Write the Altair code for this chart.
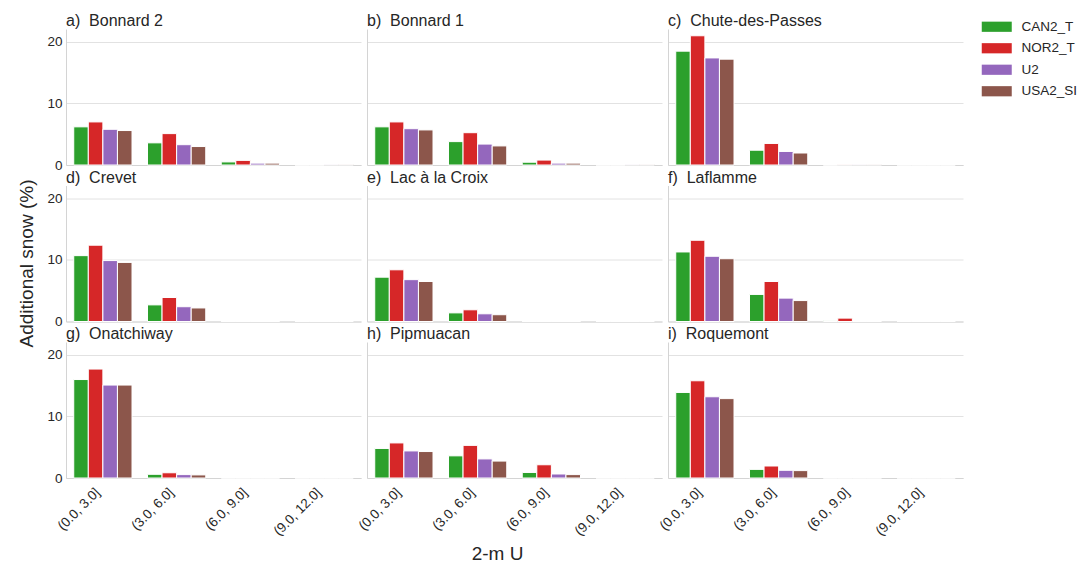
import altair as alt
import pandas as pd

bins = ["(0.0, 3.0]", "(3.0, 6.0]", "(6.0, 9.0]", "(9.0, 12.0]"]
models = ["CAN2_T", "NOR2_T", "U2", "USA2_SI"]
colors = ["#2ca02c", "#d62728", "#9467bd", "#8c564b"]

stations = [
    "a)\u00a0 Bonnard 2", "b)\u00a0 Bonnard 1", "c)\u00a0 Chute-des-Passes",
    "d)\u00a0 Crevet", "e)\u00a0 Lac à la Croix", "f)\u00a0 Laflamme",
    "g)\u00a0 Onatchiway", "h)\u00a0 Pipmuacan", "i)\u00a0 Roquemont",
]

# rows: CAN2_T, NOR2_T, U2, USA2_SI ; columns: wind bins
bonnard2 = [[6.2, 3.6, 0.5, 0.0], [7.0, 5.1, 0.75, 0.0], [5.8, 3.3, 0.3, 0.1], [5.6, 3.0, 0.3, 0.1]]
bonnard1 = [[6.2, 3.8, 0.45, 0.0], [7.0, 5.25, 0.8, 0.0], [5.9, 3.4, 0.3, 0.1], [5.7, 3.1, 0.3, 0.1]]
chute = [[18.5, 2.4, 0.0, 0.0], [21.0, 3.5, 0.05, 0.0], [17.4, 2.2, 0.1, 0.0], [17.2, 1.95, 0.1, 0.0]]
crevet = [[10.7, 2.7, 0.0, 0.0], [12.4, 3.9, 0.0, 0.0], [9.9, 2.4, 0.0, 0.0], [9.6, 2.2, 0.0, 0.0]]
lac = [[7.2, 1.4, 0.0, 0.0], [8.4, 1.9, 0.0, 0.0], [6.8, 1.25, 0.0, 0.0], [6.5, 1.1, 0.0, 0.0]]
laflamme = [[11.3, 4.4, 0.15, 0.0], [13.2, 6.5, 0.55, 0.0], [10.6, 3.8, 0.05, 0.0], [10.2, 3.4, 0.05, 0.0]]
onatchiway = [[16.0, 0.6, 0.0, 0.0], [17.7, 0.85, 0.0, 0.0], [15.1, 0.55, 0.0, 0.0], [15.1, 0.5, 0.0, 0.0]]
pipmuacan = [[4.8, 3.6, 0.9, 0.0], [5.7, 5.3, 2.15, 0.0], [4.4, 3.1, 0.65, 0.0], [4.3, 2.75, 0.55, 0.0]]
roquemont = [[13.9, 1.4, 0.0, 0.0], [15.8, 1.95, 0.0, 0.0], [13.2, 1.25, 0.0, 0.0], [12.9, 1.2, 0.0, 0.0]]

station_values = [bonnard2, bonnard1, chute, crevet, lac, laflamme, onatchiway, pipmuacan, roquemont]

FONT = "Liberation Sans"
TXT = "#262626"
GRID = "#e2e2e2"
SPINE = "#d4d4d4"
W, H = 295, 136


def panel(i):
    rows = []
    for m, series in zip(models, station_values[i]):
        for b, v in zip(bins, series):
            rows.append({"model": m, "bin": b, "value": v})
    df = pd.DataFrame(rows)
    col, row = i % 3, i // 3
    bottom = row == 2
    left = col == 0

    x_axis = alt.Axis(
        labels=bottom, ticks=False, tickSize=0, domain=True, domainColor=SPINE,
        labelAngle=315, labelAlign="right", labelBaseline="bottom",
        labelFontSize=13.5, labelColor=TXT, labelPadding=17,
        titleFontSize=19, titleFontWeight="normal", titleColor=TXT,
        titlePadding=7, titleX=130,
    )
    y_axis = alt.Axis(
        values=[0, 10, 20], labels=left, ticks=False, tickSize=0, domain=True,
        domainColor=SPINE, grid=True, gridColor=GRID, labelFontSize=13.5,
        labelColor=TXT, labelPadding=4, titleFontSize=19,
        titleFontWeight="normal", titleColor=TXT, titlePadding=10, titleY=234,
    )
    return alt.Chart(df, title=alt.TitleParams(
        stations[i], anchor="start", frame="group", fontSize=16,
        fontWeight="normal", color=TXT, font=FONT, offset=0)).mark_bar(
        stroke="white", strokeWidth=1).encode(
        x=alt.X("bin:N", sort=bins, title="2-m U" if i == 7 else None,
                scale=alt.Scale(paddingInner=0.21, paddingOuter=0.105),
                axis=x_axis),
        xOffset=alt.XOffset("model:N", sort=models,
                            scale=alt.Scale(paddingInner=0, paddingOuter=0)),
        y=alt.Y("value:Q", title="Additional snow (%)" if i == 0 else None,
                scale=alt.Scale(domain=[0, 22.1], nice=False), axis=y_axis),
        color=alt.Color("model:N", sort=models,
                        scale=alt.Scale(domain=models, range=colors),
                        legend=alt.Legend(
                            title=None, orient="none", legendX=924, legendY=-9,
                            padding=0,
                            symbolType="M-2.5,-0.85H2.5V0.85H-2.5Z",
                            symbolSize=144, symbolStrokeWidth=0,
                            symbolOpacity=1, labelFontSize=13.5,
                            labelColor=TXT, labelFont=FONT, rowPadding=6.5,
                            labelOffset=18)),
    ).properties(width=W, height=H)


chart = alt.concat(*[panel(i) for i in range(9)], columns=3, bounds="flush",
                   spacing={"row": 20.5, "column": 6}).properties(
    padding={"left": 9, "top": 5, "right": 0, "bottom": 0}
).configure_view(stroke=None).configure_axis(
    labelFont=FONT, titleFont=FONT)

chart.save("out.html", embed_options={"renderer": "svg", "actions": False})
